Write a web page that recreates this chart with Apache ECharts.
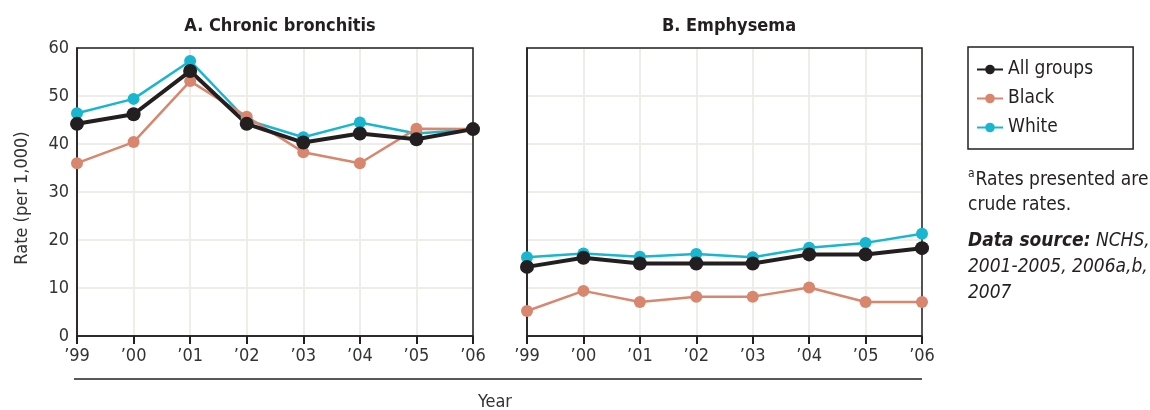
<!DOCTYPE html>
<html>
<head>
<meta charset="utf-8">
<script src="https://cdn.jsdelivr.net/npm/echarts@6/dist/echarts.min.js"></script>
<style>
  html, body { margin: 0; padding: 0; background: #fff; }
  #main { width: 1150px; height: 410px; }
</style>
</head>
<body>
<div id="main"></div>
<script>
var years = ['\u201999', '\u201900', '\u201901', '\u201902', '\u201903', '\u201904', '\u201905', '\u201906']
var yTicks = [0, 10, 20, 30, 40, 50, 60]

// A. Chronic bronchitis
var bronchAll = [44.2, 46.2, 55.2, 44.2, 40.3, 42.2, 41.0, 43.1]
var bronchBlack = [36.0, 40.4, 53.1, 45.7, 38.3, 36.0, 43.2, 43.1]
var bronchWhite = [46.4, 49.4, 57.3, 45.0, 41.4, 44.5, 42.2, 43.0]

// B. Emphysema
var emphAll = [14.4, 16.3, 15.1, 15.1, 15.1, 17.0, 17.0, 18.3]
var emphBlack = [5.2, 9.4, 7.1, 8.2, 8.2, 10.1, 7.1, 7.1]
var emphWhite = [16.4, 17.2, 16.5, 17.1, 16.4, 18.4, 19.4, 21.3]

var font = '"Liberation Sans Narrow", "DejaVu Sans Condensed", "Roboto", sans-serif'
var colAll = '#231f20'
var colBlack = '#d8866e'
var colWhite = '#19b6cf'

var chart = echarts.init(document.getElementById('main'))

function xAx(idx) {
  return {
    type: 'category',
    gridIndex: idx,
    data: years,
    boundaryGap: false,
    axisLine: { lineStyle: { color: '#231f20', width: 1.5 } },
    axisTick: { show: true, length: 8, lineStyle: { color: '#231f20', width: 2 } },
    axisLabel: { color: '#333', fontSize: 18, fontFamily: font, margin: 11 },
    splitLine: { show: true, lineStyle: { color: '#efede8', width: 2 } }
  }
}

function yAx(idx, labels) {
  return {
    type: 'value',
    gridIndex: idx,
    min: yTicks[0],
    max: yTicks[yTicks.length - 1],
    interval: 10,
    axisLine: { show: true, lineStyle: { color: '#231f20', width: 1.5 } },
    axisTick: { show: false },
    axisLabel: { show: labels, color: '#333', fontSize: 18, fontFamily: font, margin: 8 },
    splitLine: { show: true, lineStyle: { color: '#efede8', width: 2 } }
  }
}

function line(name, idx, data, color, width, size) {
  return {
    name: name,
    type: 'line',
    xAxisIndex: idx,
    yAxisIndex: idx,
    data: data,
    symbol: 'circle',
    symbolSize: size,
    itemStyle: { color: color },
    lineStyle: { color: color, width: width },
    emphasis: { disabled: true },
    animation: false
  }
}

// frame drawn around each plot area (splitLines would otherwise cover the top/right border)
function frame(x, w) {
  return {
    type: 'rect', z: 1,
    shape: { x: x, y: 48, width: w, height: 288 },
    style: { fill: 'none', stroke: '#231f20', lineWidth: 1.5 }
  }
}

var option = {
  backgroundColor: '#fff',
  textStyle: { fontFamily: font },
  title: [
    {
      text: 'A. Chronic bronchitis', left: 275, top: 12, textAlign: 'center',
      textStyle: { fontSize: 18, fontWeight: 'bold', color: '#231f20', fontFamily: font }
    },
    {
      text: 'B. Emphysema', left: 724, top: 12, textAlign: 'center',
      textStyle: { fontSize: 18, fontWeight: 'bold', color: '#231f20', fontFamily: font }
    }
  ],
  legend: {
    data: ['All groups', 'Black', 'White'],
    orient: 'vertical',
    left: 968,
    top: 47,
    width: 165,
    itemWidth: 26,
    itemHeight: 12,
    itemGap: 10,
    padding: [13, 40, 12, 8],
    borderColor: '#231f20',
    borderWidth: 1.5,
    textStyle: { fontSize: 19, color: '#231f20', fontFamily: font },
    selectedMode: false
  },
  grid: [
    { left: 77, top: 48, width: 396, height: 288 },
    { left: 527, top: 48, width: 395, height: 288 }
  ],
  xAxis: [xAx(0), xAx(1)],
  yAxis: [yAx(0, true), yAx(1, false)],
  series: [
    line('White', 0, bronchWhite, colWhite, 2.5, 12),
    line('Black', 0, bronchBlack, colBlack, 2.5, 12),
    line('All groups', 0, bronchAll, colAll, 4, 14),
    line('White', 1, emphWhite, colWhite, 2.5, 12),
    line('Black', 1, emphBlack, colBlack, 2.5, 12),
    line('All groups', 1, emphAll, colAll, 4, 14)
  ],
  graphic: [
    frame(77, 396),
    frame(527, 395),
    {
      type: 'text', x: 22, y: 198, rotation: Math.PI / 2,
      style: { text: 'Rate (per 1,000)', font: '18px ' + font, fill: '#333', textAlign: 'center', textVerticalAlign: 'middle' }
    },
    {
      type: 'line', shape: { x1: 74, y1: 379, x2: 922, y2: 379 },
      style: { stroke: '#231f20', lineWidth: 1.5 }
    },
    {
      type: 'text', x: 495, y: 402,
      style: { text: 'Year', font: '18px ' + font, fill: '#333', textAlign: 'center', textVerticalAlign: 'middle' }
    },
    {
      type: 'text', x: 968, y: 168,
      style: {
        text: '{sup|a}{n|Rates presented are}\n{n|crude rates.}',
        rich: {
          sup: { fontSize: 12, fill: '#231f20', fontFamily: font, verticalAlign: 'top', padding: [0, 1, 8, 0] },
          n: { fontSize: 19, fill: '#231f20', fontFamily: font, lineHeight: 25 }
        }
      }
    },
    {
      type: 'text', x: 968, y: 228,
      style: {
        text: '{b|Data source:}{i| NCHS,}\n{i|2001-2005, 2006a,b,}\n{i|2007}',
        rich: {
          b: { fontSize: 19, fontWeight: 'bold', fontStyle: 'italic', fill: '#231f20', fontFamily: font, lineHeight: 26 },
          i: { fontSize: 19, fontStyle: 'italic', fill: '#231f20', fontFamily: font, lineHeight: 26 }
        }
      }
    }
  ]
}

chart.setOption(option)
</script>
</body>
</html>
